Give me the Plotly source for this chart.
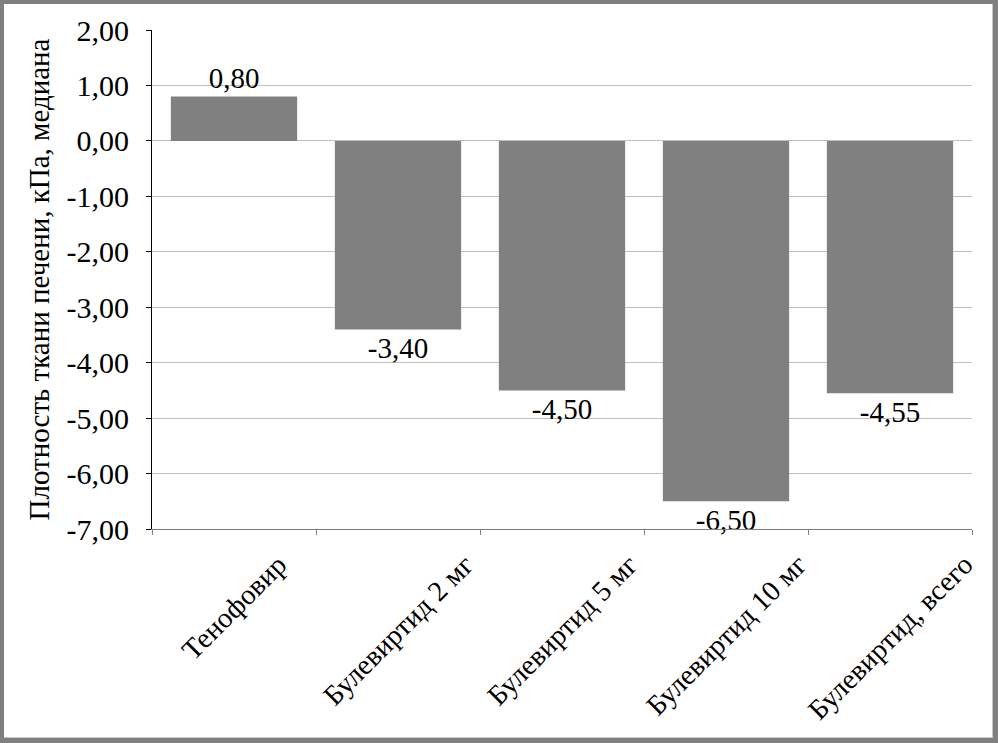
import plotly.graph_objects as go

categories = ["Тенофовир", "Булевиртид 2 мг", "Булевиртид 5 мг", "Булевиртид 10 мг", "Булевиртид, всего"]
values = [0.80, -3.40, -4.50, -6.50, -4.55]
value_labels = ["0,80", "-3,40", "-4,50", "-6,50", "-4,55"]
y_tick_vals = [2, 1, 0, -1, -2, -3, -4, -5, -6, -7]
y_tick_text = ["2,00", "1,00", "0,00", "-1,00", "-2,00", "-3,00", "-4,00", "-5,00", "-6,00", "-7,00"]
y_title = "Плотность ткани печени, кПа, медиана"

FONT = "Liberation Serif"

# plot-area geometry in pixels (for frame shapes in paper coords)
W, H = 998, 743
L, R, T, B = 152, 26, 30, 214
PW, PH = W - L - R, H - T - B


def px_x(px):
    return (px - L) / PW


def px_y(py):
    return (H - B - py) / PH


fig = go.Figure()
fig.add_trace(go.Bar(
    x=categories,
    y=values,
    text=value_labels,
    textposition="outside",
    textfont=dict(family=FONT, size=29, color="black"),
    cliponaxis=False,
    constraintext="none",
    marker=dict(color="#808080", line=dict(width=0)),
    hoverinfo="skip",
))

annotations = []
for c in categories:
    annotations.append(dict(
        x=c, xref="x", y=0, yref="paper",
        text=c, showarrow=False, textangle=-45,
        xanchor="center", yanchor="top", yshift=-17,
        font=dict(family=FONT, size=28.5, color="black"),
    ))

shapes = [
    dict(type="rect", xref="paper", yref="paper", layer="below",
         x0=px_x(4), x1=px_x(992), y0=px_y(4), y1=px_y(738),
         fillcolor="white", line=dict(width=0)),
    dict(type="line", xref="paper", yref="paper", layer="below",
         x0=px_x(992.5), x1=px_x(992.5), y0=px_y(4), y1=px_y(738),
         line=dict(color="#c8c8c8", width=1)),
    dict(type="line", xref="paper", yref="paper", layer="below",
         x0=px_x(4), x1=px_x(993), y0=px_y(737.5), y1=px_y(737.5),
         line=dict(color="#c8c8c8", width=1)),
]

fig.update_layout(
    width=W, height=H,
    margin=dict(l=L, r=R, t=T, b=B, autoexpand=False),
    paper_bgcolor="#808080",
    plot_bgcolor="white",
    bargap=0.23,
    showlegend=False,
    font=dict(family=FONT, color="black"),
    annotations=annotations,
    shapes=shapes,
)
fig.update_xaxes(
    type="category",
    range=[-0.5, 4.5],
    automargin=False,
    showticklabels=False,
    showline=True, linecolor="#808080", linewidth=1,
    ticks="outside", tickson="boundaries", ticklen=5, tickcolor="#808080",
    showgrid=False, zeroline=False,
)
fig.update_yaxes(
    range=[-7, 2],
    automargin=False,
    tickvals=y_tick_vals, ticktext=y_tick_text,
    tickfont=dict(family=FONT, size=30, color="black"),
    showline=True, linecolor="black", linewidth=1,
    ticks="outside", ticklen=5, tickcolor="black",
    ticklabelstandoff=11,
    showgrid=True, gridcolor="#c0c0c0", gridwidth=1,
    zeroline=False,
    title=dict(text=y_title, font=dict(family=FONT, size=29, color="black"), standoff=8),
)

fig.write_html(
    "out.html",
    config={"displayModeBar": False},
    post_script="document.body.style.margin='0';document.body.style.overflow='hidden';",
)
